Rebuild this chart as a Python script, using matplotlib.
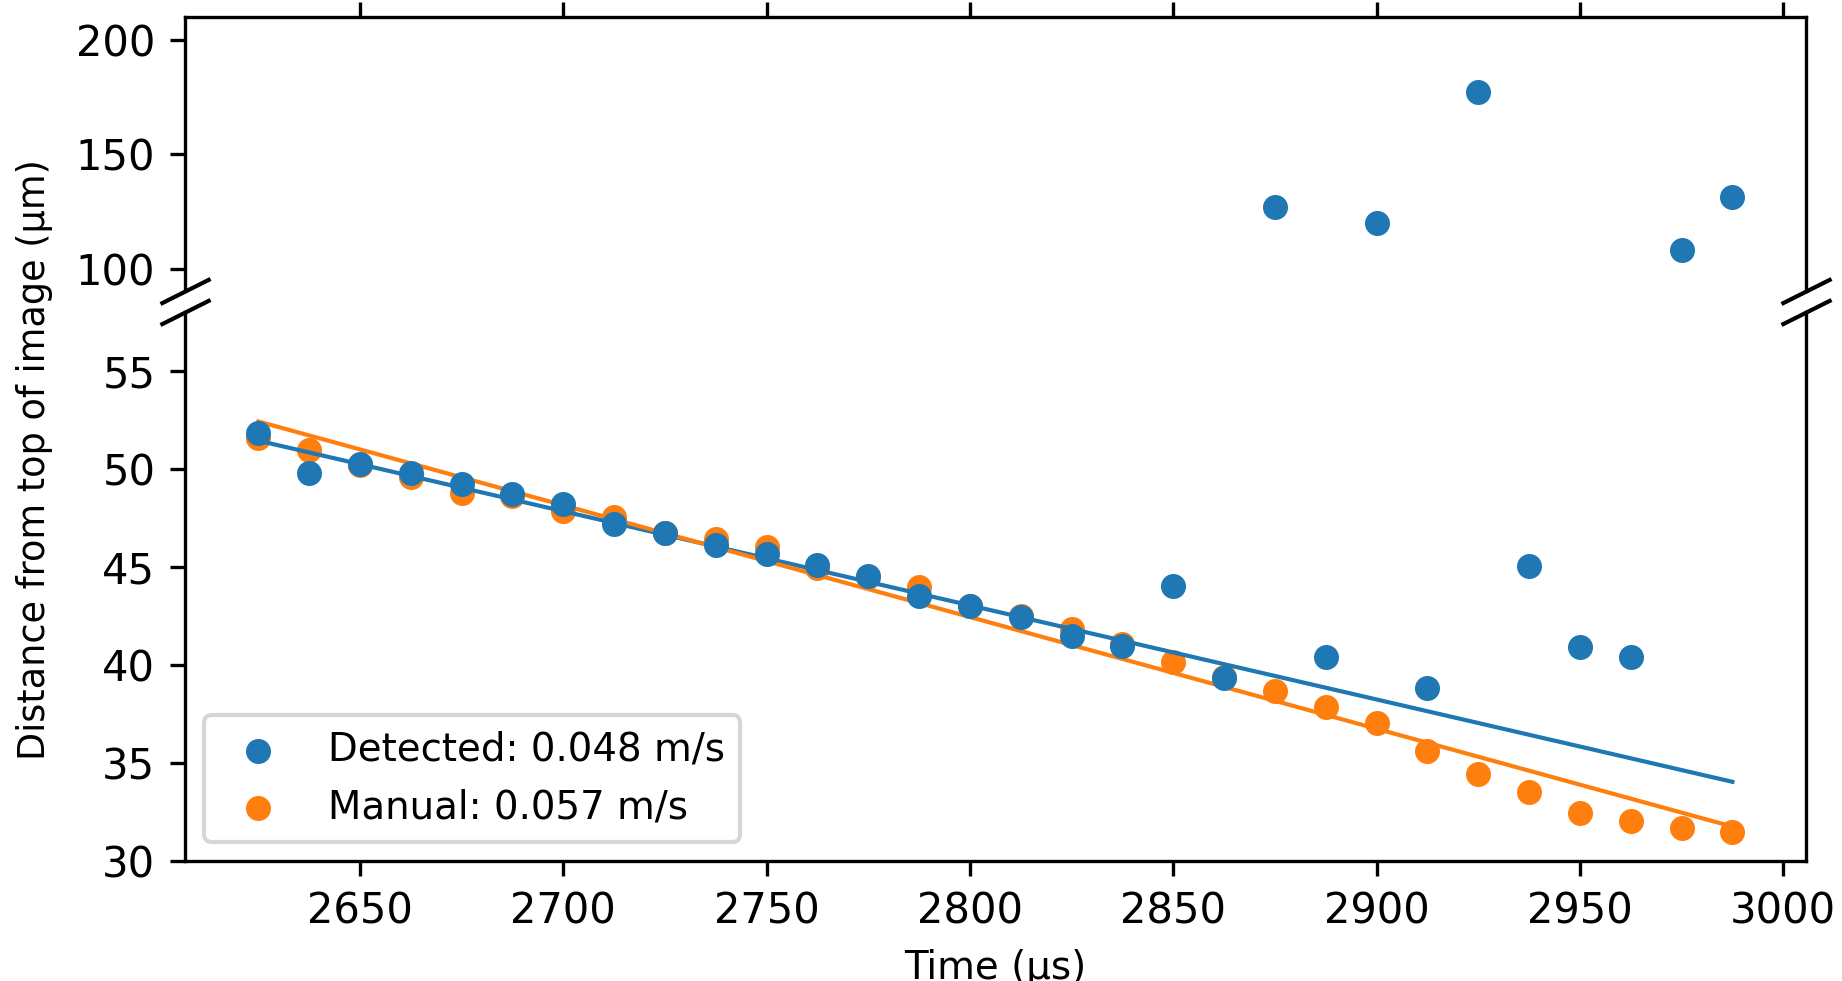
import numpy as np
import matplotlib
matplotlib.use("Agg")
import matplotlib.pyplot as plt

# sample times (µs) and tracked distance from the top of the image (µm)
time_us = [2625.0, 2637.5, 2650.0, 2662.5, 2675.0, 2687.5, 2700.0, 2712.5, 2725.0, 2737.5,
           2750.0, 2762.5, 2775.0, 2787.5, 2800.0, 2812.5, 2825.0, 2837.5, 2850.0, 2862.5,
           2875.0, 2887.5, 2900.0, 2912.5, 2925.0, 2937.5, 2950.0, 2962.5, 2975.0, 2987.5]

detected_um = [51.82, 49.78, 50.26, 49.78, 49.24, 48.70, 48.23, 47.20, 46.73, 46.13,
               45.65, 45.10, 44.54, 43.50, 43.03, 42.46, 41.48, 40.95, 44.02, 39.35,
               126.8, 40.42, 120.1, 38.84, 177.3, 45.07, 40.92, 40.42, 108.2, 131.4]

manual_um = [51.58, 50.98, 50.20, 49.60, 48.77, 48.60, 47.87, 47.57, 46.73, 46.43,
             46.00, 44.93, 44.50, 43.98, 43.00, 42.50, 41.81, 41.05, 40.14, 39.41,
             38.69, 37.84, 37.04, 35.63, 34.44, 33.53, 32.45, 32.04, 31.69, 31.50]

# linear fits: speed in m/s (= µm/µs) and fitted position at the first sample
speed_detected = 0.048
speed_manual = 0.057
start_detected = 51.44
start_manual = 52.42

plt.rcParams["font.size"] = 10

fig, (ax_top, ax_bot) = plt.subplots(
    2, 1, sharex=True, figsize=(1842 / 300, 981 / 300), dpi=300,
    gridspec_kw=dict(height_ratios=[1, 2], hspace=0.05),
)
fig.subplots_adjust(left=0.1002, right=0.9805, top=0.9827, bottom=0.1223)

t = np.array(time_us)
fit_t = np.array([time_us[0], time_us[-1]])
fit_detected = start_detected - speed_detected * (fit_t - time_us[0])
fit_manual = start_manual - speed_manual * (fit_t - time_us[0])

for ax in (ax_top, ax_bot):
    ax.scatter(t, detected_um, s=25, color="C0",
               label=f"Detected: {speed_detected:.3f} m/s", zorder=3)
    ax.scatter(t, manual_um, s=25, color="C1",
               label=f"Manual: {speed_manual:.3f} m/s", zorder=2)
    ax.plot(fit_t, fit_detected, color="C0", lw=1)
    ax.plot(fit_t, fit_manual, color="C1", lw=1)

ax_top.set_ylim(90, 210)
ax_bot.set_ylim(30, 58)

# broken y axis
ax_top.spines["bottom"].set_visible(False)
ax_bot.spines["top"].set_visible(False)
ax_top.xaxis.tick_top()
ax_top.tick_params(labeltop=False)
ax_bot.xaxis.tick_bottom()

d = 0.5
kw = dict(marker=[(-1, -d), (1, d)], markersize=12, linestyle="none",
          color="k", mec="k", mew=1, clip_on=False)
ax_top.plot([0, 1], [0, 0], transform=ax_top.transAxes, **kw)
ax_bot.plot([0, 1], [1, 1], transform=ax_bot.transAxes, **kw)

ax_bot.set_xlabel("Time (µs)", fontsize=9.3)
fig.text(0.019, 0.532, "Distance from top of image (µm)", rotation=90,
         ha="center", va="center", fontsize=8.8)
ax_bot.legend(loc="lower left", fontsize=9.3)

fig.savefig("out.png", dpi=300)
